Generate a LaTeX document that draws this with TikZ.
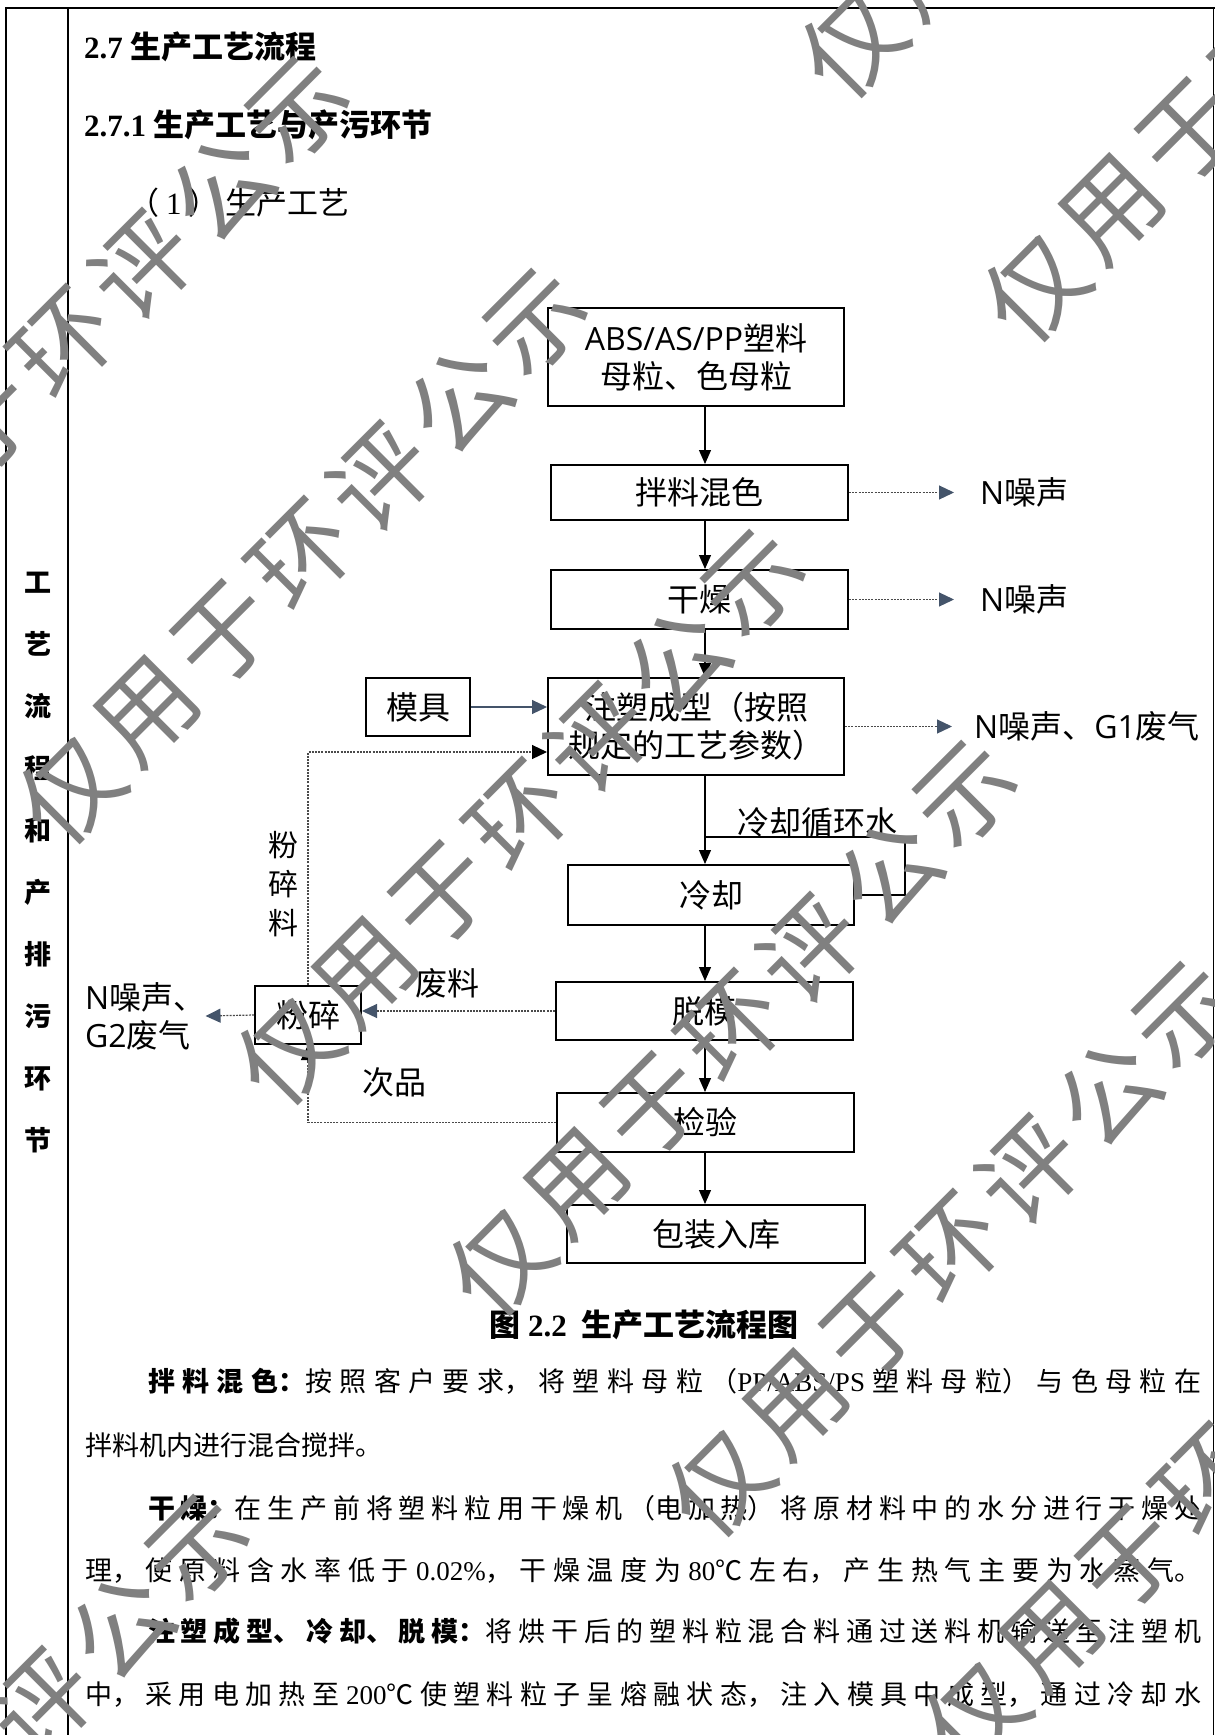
\documentclass[tikz,border=0pt]{standalone}
\usepackage{fontspec}
\setmainfont{Liberation Serif}
\newfontfamily\zh{Noto Sans CJK SC}
\newfontfamily\lat{Open Sans}
\usetikzlibrary{arrows.meta}
\definecolor{slate}{HTML}{44546A}
\definecolor{dotgray}{HTML}{4A4A4A}
\definecolor{wmgray}{RGB}{128,128,128}
\newcommand\mybody{\zh\fontsize{27}{32}\selectfont\parindent=0pt\parfillskip=0pt\tolerance=9999\XeTeXlinebreaklocale "zh"\XeTeXlinebreakskip=0pt plus 20pt\relax}
\newcommand\dgfont{\zh\fontsize{32}{38}\selectfont}
\begin{document}
\begin{tikzpicture}[x=1pt,y=-1pt,
  box/.style={draw, line width=2pt, fill=white, inner sep=0pt, font=\dgfont, align=center},
  lbl/.style={inner sep=0pt, font=\dgfont},
  flow/.style={line width=1.2pt, -{Triangle[length=14pt,width=12pt]}},
  darr/.style={draw=dotgray, line width=1.2pt, dash pattern=on 2pt off 1.2pt, -{Triangle[length=15pt,width=14pt,color=slate]}},
  dret/.style={draw=dotgray, line width=1.2pt, dash pattern=on 2pt off 1.2pt, -{Triangle[length=15pt,width=14pt,color=black]}},
  sarr/.style={draw=slate, line width=1.1pt, -{Triangle[length=15pt,width=14pt,color=slate]}},
  body/.style={anchor=base west, inner sep=0pt, align=justify, font=\mybody},
  bodyn/.style={anchor=base west, inner sep=0pt, font=\mybody},
  wm/.style={inner sep=0pt, text=wmgray, font=\zh\fontsize{100}{100}\selectfont, rotate=45}
]
\useasboundingbox (0,0) rectangle (1215,1735);
\fill[white] (0,0) rectangle (1215,1735);

% frame
\draw[line width=2.6pt] (6,1735) -- (6,8) -- (1215,8);
\draw[line width=1.2pt] (68,8) -- (68,1735);
\draw[line width=1pt] (1213.5,8) -- (1213.5,1735);

% side column
\node[inner sep=0pt, align=center, font=\zh\bfseries\fontsize{27}{62.1}\selectfont] (side) at (38,862.5) {工\\艺\\流\\程\\和\\产\\排\\污\\环\\节};

% headings
\node[anchor=west, inner sep=0pt, font=\bfseries\fontsize{31}{36}\selectfont] (h1) at (84,47) {2.7 {\zh 生产工艺流程}};
\node[anchor=west, inner sep=0pt, font=\bfseries\fontsize{31}{36}\selectfont] (h2) at (84,125) {2.7.1 {\zh 生产工艺与产污环节}};
\node[anchor=west, inner sep=0pt, font=\fontsize{31}{36}\selectfont] (h3) at (128,203) {{\zh （}\hspace{7pt}1\hspace{7pt}{\zh ）}\hspace{6pt}{\zh 生产工艺}};

% boxes
\node[box, minimum width=296pt, minimum height=98pt] (raw) at (696,357) {{\lat ABS/AS/PP}塑料\\母粒、色母粒};
\node[box, minimum width=297pt, minimum height=55pt] (mix) at (699.5,492.5) {拌料混色};
\node[box, minimum width=297pt, minimum height=59pt] (dry) at (699.5,599.5) {干燥};
\node[box, minimum width=296pt, minimum height=97pt] (inj) at (696,726.5) {注塑成型（按照\\规定的工艺参数）};
\node[box, minimum width=104pt, minimum height=58pt] (mold) at (418,707) {模具};
\node[box, minimum width=286pt, minimum height=60pt] (cool) at (711,895) {冷却};
\node[box, minimum width=297pt, minimum height=58pt] (demold) at (704.5,1011) {脱模};
\node[box, minimum width=297pt, minimum height=59pt] (insp) at (705.5,1122.5) {检验};
\node[box, minimum width=298pt, minimum height=58pt] (pack) at (716,1234) {包装入库};
\node[box, minimum width=106pt, minimum height=58pt] (crush) at (308,1015) {粉碎};

% main flow
\coordinate (ax) at (705,0);
\draw[flow] (raw.south -| ax) -- (mix.north -| ax);
\draw[flow] (mix.south -| ax) -- (dry.north -| ax);
\draw[flow] (dry.south -| ax) -- (inj.north -| ax);
\draw[flow] (inj.south -| ax) -- (cool.north -| ax);
\draw[flow] (cool.south -| ax) -- (demold.north -| ax);
\draw[flow] (demold.south -| ax) -- (insp.north -| ax);
\draw[flow] (insp.south -| ax) -- (pack.north -| ax);

% cooling water loop
\coordinate (loopT) at (905,837);
\coordinate (loopJ) at (705,837);
\draw[line width=1.2pt] (cool.east) -| (loopT) -- (loopJ);
\node[lbl] (cwl) at (817,822) {冷却循环水};

% outputs right
\node[lbl, anchor=west] (n1) at (980,492.5) {{\lat N}噪声};
\node[lbl, anchor=west] (n2) at (980,599.5) {{\lat N}噪声};
\node[lbl, anchor=west] (n3) at (974,726.5) {{\lat N}噪声、{\lat G1}废气};
\draw[darr, shorten >=26pt] (mix.east) -- (n1.west);
\draw[darr, shorten >=26pt] (dry.east) -- (n2.west);
\draw[darr, shorten >=22pt] (inj.east) -- (n3.west);

% mould
\draw[sarr] (mold.east) -- (mold.east -| inj.west);

% recycle
\coordinate (retY) at (0,752);
\draw[dret] (crush.north) |- (retY -| inj.west);
\node[inner sep=0pt, align=center, font=\zh\fontsize{30}{39}\selectfont] (fsl) at (283,884) {粉\\碎\\料};
\draw[darr] (demold.west) -- (demold.west -| crush.east);
\node[lbl] (fl) at (447,983) {废料};
\draw[dret] (insp.west) -| (crush.south);
\node[lbl] (cp) at (394,1082) {次品};
\node[lbl, anchor=west, align=left] (out2) at (85,1016) {{\lat N}噪声、\\{\lat G2}废气};
\draw[darr] (crush.west) -- (out2.east);

% caption
\node[inner sep=0pt, font=\zh\bfseries\fontsize{31}{36}\selectfont] (cap) at (644,1325) {图 {\rmfamily 2.2}\ \ 生产工艺流程图};

% body text
\node[body, text width=1053pt] (p1) at (148,1391) {{\bfseries 拌料混色：}按照客户要求，将塑料母粒（\mbox{\rmfamily PP/ABS/PS} 塑料母粒）与色母粒在};
\node[bodyn] (p2) at (85,1455) {拌料机内进行混合搅拌。};
\node[body, text width=1053pt] (p3) at (148,1518) {{\bfseries 干燥：}在生产前将塑料粒用干燥机（电加热）将原材料中的水分进行干燥处};
\node[body, text width=1116pt] (p4) at (85,1580) {理，使原料含水率低于 \mbox{\rmfamily 0.02\%}，干燥温度为 \mbox{\rmfamily 80}℃左右，产生热气主要为水蒸气。};
\node[body, text width=1053pt] (p5) at (148,1641) {{\bfseries 注塑成型、冷却、脱模：}将烘干后的塑料粒混合料通过送料机输送至注塑机};
\node[body, text width=1116pt] (p6) at (85,1704) {中，采用电加热至 \mbox{\rmfamily 200}℃使塑料粒子呈熔融状态，注入模具中成型，通过冷却水};

% watermarks
\foreach \nm/\sx/\sy in {wa/-168/578, wb/70/790, wc/852/44, wd/288/1051, we/1035/288, wf/500/1262, wg/1265/470, wh/-268/2016, wi/719/1483, wj/975/1715}{
  \foreach \ch [count=\i from 0] in {仅,用,于,环,评,公,示}{
    \node[wm] (\nm\i) at ({\sx+\i*77.8},{\sy-\i*77.8}) {\ch};
  }
}
\end{tikzpicture}
\end{document}
